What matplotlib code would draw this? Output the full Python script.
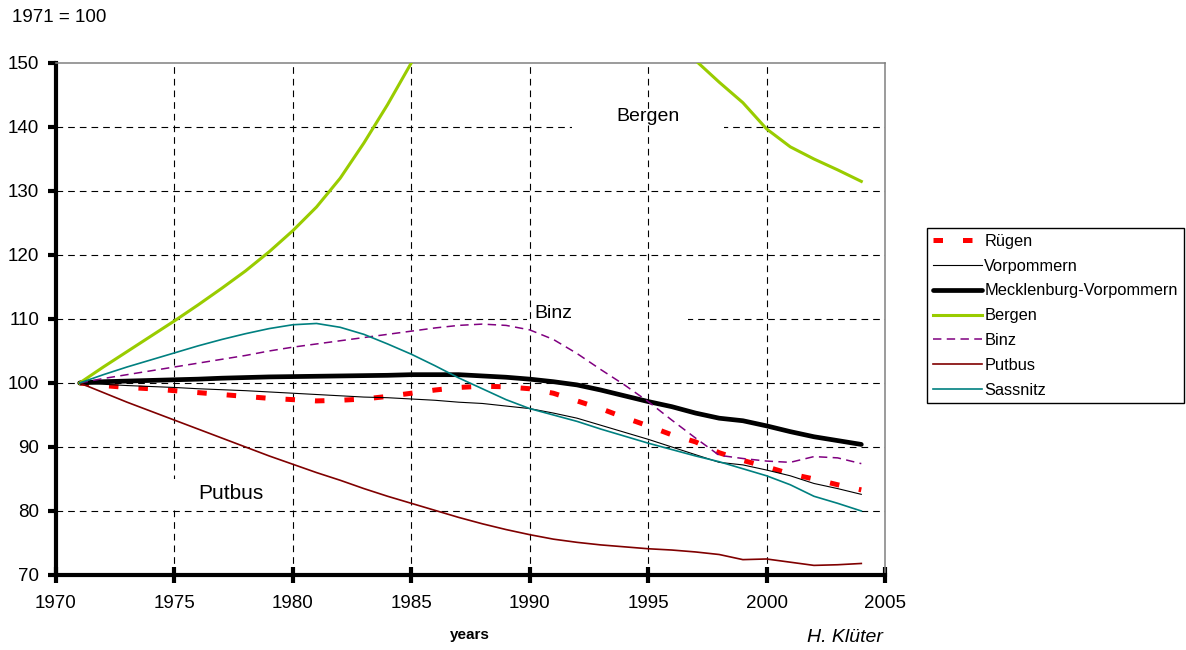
import numpy as np
import matplotlib
matplotlib.use("Agg")
import matplotlib.pyplot as plt
from matplotlib.patches import Rectangle

plt.rcParams['font.family'] = ['Liberation Sans', 'DejaVu Sans']

# Population index, 1971 = 100
years = list(range(1971, 2005))

ruegen = [100.0, 99.6, 99.3, 99.1, 98.8, 98.5, 98.2, 97.9, 97.6, 97.4,
          97.2, 97.3, 97.5, 97.9, 98.4, 98.9, 99.3, 99.5, 99.4, 99.1,
          98.4, 97.2, 96.0, 94.6, 93.3, 91.9, 90.8, 89.1, 87.9, 86.9,
          85.8, 85.0, 84.1, 83.3]
vorpommern = [100.0, 99.8, 99.6, 99.45, 99.3, 99.1, 98.95, 98.8, 98.6, 98.4,
              98.2, 98.0, 97.8, 97.7, 97.5, 97.3, 97.0, 96.8, 96.4, 96.0,
              95.3, 94.5, 93.4, 92.3, 91.2, 90.0, 88.8, 87.6, 87.2, 86.4,
              85.5, 84.3, 83.5, 82.6]
meck_vorp = [100.0, 100.2, 100.3, 100.4, 100.5, 100.6, 100.75, 100.85, 100.95, 101.0,
             101.05, 101.1, 101.15, 101.2, 101.3, 101.3, 101.3, 101.1, 100.9, 100.6,
             100.2, 99.7, 98.9, 98.0, 97.1, 96.3, 95.3, 94.5, 94.1, 93.3,
             92.4, 91.6, 91.0, 90.4]
bergen = [100.0, 102.5, 104.9, 107.3, 109.7, 112.2, 114.8, 117.5, 120.5, 123.8,
          127.5, 132.0, 137.5, 143.5, 150.0, np.nan, np.nan, np.nan, np.nan, np.nan,
          np.nan, np.nan, np.nan, np.nan, np.nan, np.nan, 150.4, 147.0, 143.8, 139.7,
          136.9, 135.0, 133.3, 131.5]
binz = [100.0, 100.7, 101.3, 101.9, 102.5, 103.1, 103.7, 104.3, 105.0, 105.6,
        106.1, 106.6, 107.1, 107.6, 108.1, 108.6, 109.0, 109.2, 109.0, 108.3,
        106.8, 104.6, 102.1, 99.7, 97.1, 94.2, 91.4, 88.7, 88.2, 87.8,
        87.6, 88.5, 88.3, 87.4]
putbus = [100.0, 98.5, 97.0, 95.6, 94.2, 92.8, 91.4, 90.0, 88.6, 87.3,
          86.0, 84.8, 83.5, 82.3, 81.2, 80.1, 79.0, 78.0, 77.1, 76.3,
          75.6, 75.1, 74.7, 74.4, 74.1, 73.9, 73.6, 73.2, 72.4, 72.5,
          72.0, 71.5, 71.6, 71.8]
sassnitz = [100.0, 101.3, 102.5, 103.6, 104.7, 105.8, 106.8, 107.7, 108.5, 109.1,
            109.3, 108.7, 107.6, 106.1, 104.5, 102.7, 100.8, 99.1, 97.4, 96.0,
            95.0, 94.0, 92.8, 91.7, 90.6, 89.6, 88.6, 87.7, 86.6, 85.5,
            84.1, 82.3, 81.2, 80.0]

x_ticks = [1970, 1975, 1980, 1985, 1990, 1995, 2000, 2005]
y_ticks = [70, 80, 90, 100, 110, 120, 130, 140, 150]

fig = plt.figure(figsize=(11.86, 6.5), dpi=100)
ax = fig.add_axes([0.0472, 0.1154, 0.6990, 0.7877])
ax.set_xlim(1970, 2005)
ax.set_ylim(70, 150)

# grid: horizontal lines first, label boxes hide parts of them, then vertical lines
for yv in y_ticks[1:-1]:
    ax.axhline(yv, color='black', lw=0.8, ls=(0, (6, 4.5)), zorder=0.5)
ax.add_patch(Rectangle((1991.8, 139.0), 6.4, 2.2, facecolor='white',
                       edgecolor='none', zorder=0.6))
ax.add_patch(Rectangle((1989.9, 109.0), 6.8, 2.2, facecolor='white',
                       edgecolor='none', zorder=0.6))
for xv in x_ticks[1:-1]:
    ax.axvline(xv, color='black', lw=0.8, ls=(0, (6, 4.5)), zorder=0.7)
ax.add_patch(Rectangle((1974.7, 80.8), 5.0, 4.2, facecolor='white',
                       edgecolor='none', zorder=0.8))

ax.plot(years, ruegen, color='#FF0000', lw=3.6, ls=(0, (1.9, 4.0)),
        label='Rügen', zorder=3)
ax.plot(years, vorpommern, color='black', lw=0.8, label='Vorpommern', zorder=3)
ax.plot(years, meck_vorp, color='black', lw=3.4, label='Mecklenburg-Vorpommern',
        zorder=3, solid_capstyle='round')
ax.plot(years, bergen, color='#99CC00', lw=2.2, label='Bergen', zorder=3)
ax.plot(years, binz, color='#800080', lw=1.1, ls=(0, (5.5, 3.5)), label='Binz', zorder=3)
ax.plot(years, putbus, color='#800000', lw=1.2, label='Putbus', zorder=3)
ax.plot(years, sassnitz, color='#008080', lw=1.2, label='Sassnitz', zorder=3)

ax.text(1995.0, 141.6, 'Bergen', fontsize=14, ha='center', va='center', zorder=4)
ax.text(1990.2, 110.9, 'Binz', fontsize=14, ha='left', va='center', zorder=4)
ax.text(1976.0, 82.8, 'Putbus', fontsize=15, ha='left', va='center', zorder=4)

ax.set_xticks(x_ticks)
ax.set_yticks(y_ticks)
ax.tick_params(axis='x', direction='inout', length=11, width=3, pad=9,
               labelsize=13.5)
ax.tick_params(axis='y', direction='out', length=6, width=3, pad=6,
               labelsize=13.5)

for side in ('left', 'bottom'):
    ax.spines[side].set_linewidth(3)
    ax.spines[side].set_color('black')
for side in ('top', 'right'):
    ax.spines[side].set_linewidth(1.1)
    ax.spines[side].set_color('#808080')

leg = ax.legend(loc='upper left', bbox_to_anchor=(0.7816, 0.6492),
                bbox_transform=fig.transFigure, fontsize=11.8, frameon=True,
                fancybox=False, framealpha=1, edgecolor='black',
                borderaxespad=0, borderpad=0.35, labelspacing=0.6,
                handlelength=3.0, handletextpad=0.15)
leg.get_frame().set_linewidth(1.0)

fig.text(12 / 1186, 1 - 18 / 650, '1971 = 100', fontsize=13.5, ha='left', va='center')
fig.text(470 / 1186, 1 - 635 / 650, 'years', fontsize=11, fontweight='bold',
         ha='center', va='center')
fig.text(883 / 1186, 1 - 637 / 650, 'H. Klüter', fontsize=14, fontstyle='italic',
         ha='right', va='center')

fig.savefig('out.png', dpi=100)
